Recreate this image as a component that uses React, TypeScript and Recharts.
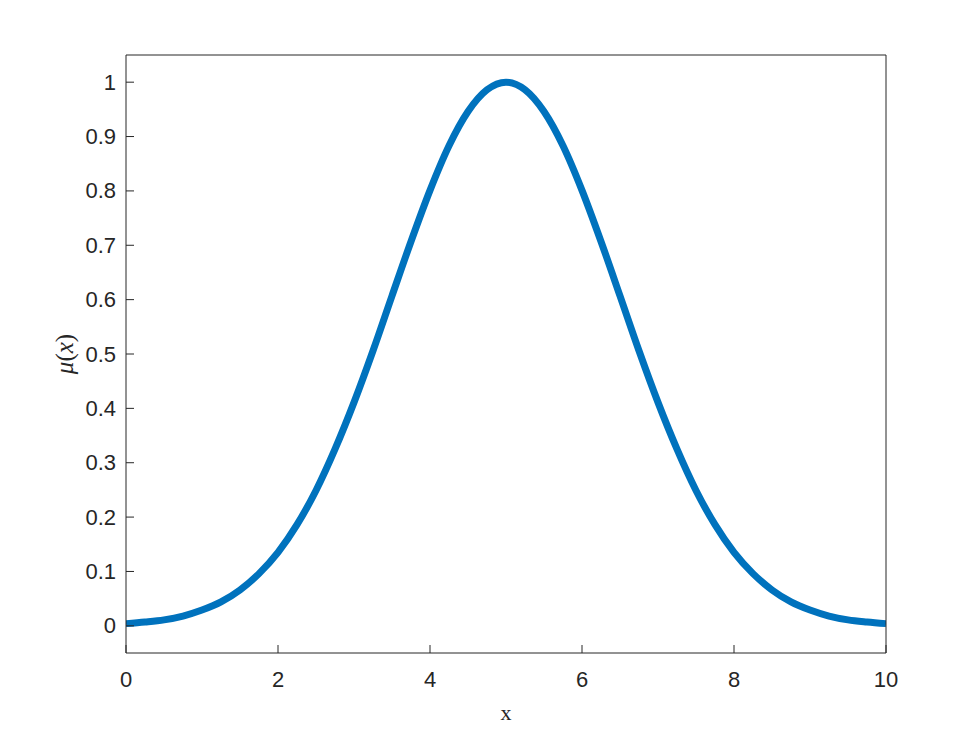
import { LineChart, Line, XAxis, YAxis, Label } from "recharts";

const X_VALUES = [
  0, 0.25, 0.5, 0.75, 1, 1.25, 1.5, 1.75, 2, 2.25, 2.5, 2.75, 3, 3.25, 3.5, 3.75,
  4, 4.25, 4.5, 4.75, 5, 5.25, 5.5, 5.75, 6, 6.25, 6.5, 6.75, 7, 7.25, 7.5, 7.75,
  8, 8.25, 8.5, 8.75, 9, 9.25, 9.5, 9.75, 10,
];
const MU_VALUES = [
  0.004, 0.007, 0.011, 0.018, 0.029, 0.044, 0.066, 0.096, 0.135, 0.186, 0.249,
  0.325, 0.411, 0.506, 0.607, 0.707, 0.801, 0.883, 0.946, 0.986, 1.0, 0.986,
  0.946, 0.883, 0.801, 0.707, 0.607, 0.506, 0.411, 0.325, 0.249, 0.186, 0.135,
  0.096, 0.066, 0.044, 0.029, 0.018, 0.011, 0.007, 0.004,
];
const X_TICKS = [0, 2, 4, 6, 8, 10];
const Y_TICKS = [0, 0.1, 0.2, 0.3, 0.4, 0.5, 0.6, 0.7, 0.8, 0.9, 1];

const INK = "#262626";
const BLUE = "#0072BD";
const SANS = "'Liberation Sans', Arial, sans-serif";
const SERIF = "'Liberation Serif', 'Times New Roman', serif";

const data = X_VALUES.map((x, i) => ({ x, mu: MU_VALUES[i] }));

const fmt = (v: number) => String(Math.round(v * 10) / 10);

function XTick(props: any) {
  return (
    <text
      x={props.x}
      y={props.y}
      textAnchor="middle"
      dominantBaseline="hanging"
      fill={INK}
      fontSize={22}
      fontFamily={SANS}
    >
      {fmt(props.payload.value)}
    </text>
  );
}

function YTick(props: any) {
  return (
    <text
      x={props.x}
      y={props.y}
      textAnchor="end"
      dominantBaseline="central"
      fill={INK}
      fontSize={22}
      fontFamily={SANS}
    >
      {fmt(props.payload.value)}
    </text>
  );
}

function YTitle(props: any) {
  const vb = props.viewBox || {};
  const cx = vb.x + 64;
  const cy = vb.y + vb.height / 2;
  return (
    <text
      x={cx}
      y={cy}
      transform={`rotate(-90 ${cx} ${cy})`}
      textAnchor="middle"
      dominantBaseline="central"
      fill={INK}
      fontSize={25}
      fontFamily={SERIF}
    >
      <tspan fontStyle="italic">μ</tspan>(<tspan fontStyle="italic">x</tspan>)
    </text>
  );
}

export default function App() {
  return (
    <div
      style={{
        position: "absolute",
        left: 0,
        top: 0,
        width: 980,
        height: 735,
        background: "#fff",
      }}
    >
      <LineChart
        width={980}
        height={735}
        data={data}
        margin={{ top: 0, right: 0, bottom: 0, left: 0 }}
      >
        <XAxis
          dataKey="x"
          type="number"
          domain={[0, 10]}
          ticks={X_TICKS}
          allowDataOverflow
          height={82}
          tickSize={-8}
          tickMargin={26}
          stroke={INK}
          tick={<XTick />}
        >
          <Label
            value="x"
            position="insideBottom"
            offset={15}
            fill={INK}
            fontSize={22}
            fontFamily={SERIF}
          />
        </XAxis>
        <XAxis
          xAxisId="top"
          orientation="top"
          type="number"
          domain={[0, 10]}
          ticks={X_TICKS}
          allowDataOverflow
          height={55}
          tickSize={-8}
          stroke={INK}
          tick={false}
        />
        <YAxis
          type="number"
          domain={[-0.05, 1.05]}
          ticks={Y_TICKS}
          allowDataOverflow
          width={126}
          tickSize={-8}
          tickMargin={18}
          stroke={INK}
          tick={<YTick />}
        >
          <Label content={YTitle} />
        </YAxis>
        <YAxis
          yAxisId="right"
          orientation="right"
          type="number"
          domain={[-0.05, 1.05]}
          ticks={Y_TICKS}
          allowDataOverflow
          width={94}
          tickSize={-8}
          stroke={INK}
          tick={false}
        />
        <Line
          dataKey="mu"
          type="monotone"
          stroke={BLUE}
          strokeWidth={7}
          dot={false}
          isAnimationActive={false}
        />
      </LineChart>
    </div>
  );
}
